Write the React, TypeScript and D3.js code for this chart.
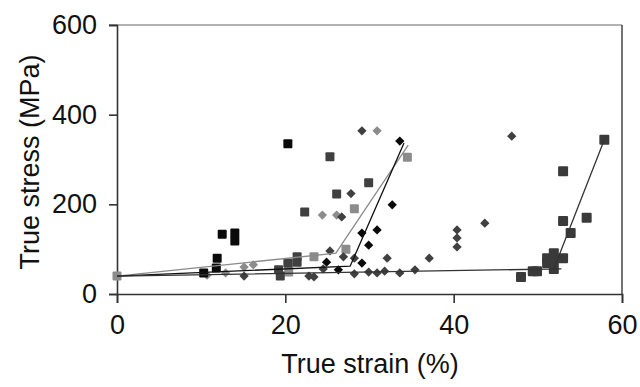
import * as React from 'react';
import * as d3 from 'd3';

// [true strain %, true stress MPa]
const blackSquares = [[10.3, 47], [11.8, 58], [11.9, 80], [12.5, 133], [14.0, 136], [14.0, 118], [20.3, 335]];
const darkSquares = [[19.2, 54], [19.4, 40], [20.3, 69], [21.4, 71], [21.4, 83], [22.3, 183], [25.3, 306], [26.1, 223], [29.9, 248]];
const graySquares = [[0, 40], [20.4, 49], [20.4, 67], [23.4, 83], [27.2, 100], [28.2, 190], [34.5, 305]];
const lateSquares = [[48, 38], [49.4, 51], [49.9, 51], [51.1, 69], [51.1, 80], [51.9, 91], [51.9, 76], [51.9, 56], [53, 80], [53, 163], [53, 274], [53.9, 136], [55.8, 170], [57.9, 344]];
const grayDiamonds = [[10.7, 42], [12.9, 47], [15.1, 60], [16.2, 65], [24.4, 176], [26.1, 176], [30.9, 364]];
const darkDiamonds = [[15.1, 40], [22.8, 40], [23.4, 38], [24.5, 56], [25.3, 96], [26.7, 172], [27.8, 224], [26.9, 83], [29.1, 364], [28.2, 80], [28.2, 45], [29.9, 49], [30.9, 47], [31.8, 51], [33.6, 47], [35.4, 54], [32.1, 80], [37.1, 80], [40.4, 143], [40.4, 125], [40.4, 105], [43.7, 158], [46.9, 352]];
const blackDiamonds = [[24.9, 71], [26.3, 54], [29.1, 136], [30.9, 143], [29.9, 109], [29.1, 69], [32.7, 199], [33.6, 341]];

const grayLine = [[0, 40], [26, 91], [34.6, 332]];
const blackLine = [[0, 40], [27.7, 62], [34.1, 337]];
const darkLine = [[0, 40], [52.8, 56], [51.9, 56], [57.9, 344]];

const xTicks = [0, 20, 40, 60];
const yTicks = [0, 200, 400, 600];

const FONT = '"Liberation Sans", Arial, sans-serif';

export default function App() {
  const ref = React.useRef<SVGSVGElement>(null);

  React.useEffect(() => {
    const svg = d3.select(ref.current);
    svg.selectAll('*').remove();

    const x = d3.scaleLinear().domain([0, 60]).range([117, 622]);
    const y = d3.scaleLinear().domain([0, 600]).range([294, 25]);

    // frame
    svg.append('line').attr('x1', 109).attr('x2', 622).attr('y1', y(600)).attr('y2', y(600))
      .attr('stroke', '#999').attr('stroke-width', 1.5);
    svg.append('line').attr('x1', x(60)).attr('x2', x(60)).attr('y1', y(600)).attr('y2', y(0))
      .attr('stroke', '#444').attr('stroke-width', 1.5);

    const xAxis = svg.append('g')
      .attr('transform', `translate(0,${y(0)})`)
      .call(d3.axisBottom(x).tickValues(xTicks).tickSize(9).tickPadding(12));
    const yAxis = svg.append('g')
      .attr('transform', `translate(${x(0)},0)`)
      .call(d3.axisLeft(y).tickValues(yTicks).tickSize(8).tickPadding(12));

    [xAxis, yAxis].forEach(ax => {
      ax.select('.domain').attr('stroke', '#333').attr('stroke-width', 1.6);
      ax.selectAll('.tick line').attr('stroke', '#333').attr('stroke-width', 1.6);
      ax.selectAll('.tick text').style('font-family', FONT).style('font-size', '27px').attr('fill', '#111');
    });

    svg.append('text')
      .attr('x', 370).attr('y', 373)
      .attr('text-anchor', 'middle')
      .style('font-family', FONT).style('font-size', '27px').attr('fill', '#111')
      .text('True strain (%)');
    svg.append('text')
      .attr('transform', 'translate(39,162) rotate(-90)')
      .attr('text-anchor', 'middle')
      .style('font-family', FONT).style('font-size', '27px').attr('fill', '#111')
      .text('True stress (MPa)');

    const plot = svg.append('g');

    const squares = (data, color, size) => {
      plot.append('g').selectAll('rect').data(data).enter().append('rect')
        .attr('x', d => x(d[0]) - size / 2)
        .attr('y', d => y(d[1]) - size / 2)
        .attr('width', size).attr('height', size)
        .attr('rx', 1)
        .attr('fill', color);
    };
    const diamonds = (data, color, size) => {
      const sym = d3.symbol().type(d3.symbolDiamond2).size(size);
      plot.append('g').selectAll('path').data(data).enter().append('path')
        .attr('transform', d => `translate(${x(d[0])},${y(d[1])})`)
        .attr('d', sym)
        .attr('fill', color);
    };

    squares(graySquares, '#8c8c8c', 9);
    diamonds(grayDiamonds, '#8c8c8c', 55);
    diamonds(darkDiamonds, '#404040', 55);
    squares(darkSquares, '#404040', 9);
    squares(lateSquares, '#3a3a3a', 10);
    squares(blackSquares, '#0a0a0a', 9);
    diamonds(blackDiamonds, '#0a0a0a', 55);

    const line = d3.line().x(d => x(d[0])).y(d => y(d[1]));
    plot.append('path').attr('d', line(grayLine)).attr('fill', 'none').attr('stroke', '#8a8a8a').attr('stroke-width', 1.3);
    plot.append('path').attr('d', line(blackLine)).attr('fill', 'none').attr('stroke', '#111').attr('stroke-width', 1.3);
    plot.append('path').attr('d', line(darkLine)).attr('fill', 'none').attr('stroke', '#333').attr('stroke-width', 1.3);
  }, []);

  return (
    <svg ref={ref} width={640} height={387}
      style={{ position: 'absolute', left: 0, top: 0, background: '#fff' }} />
  );
}
